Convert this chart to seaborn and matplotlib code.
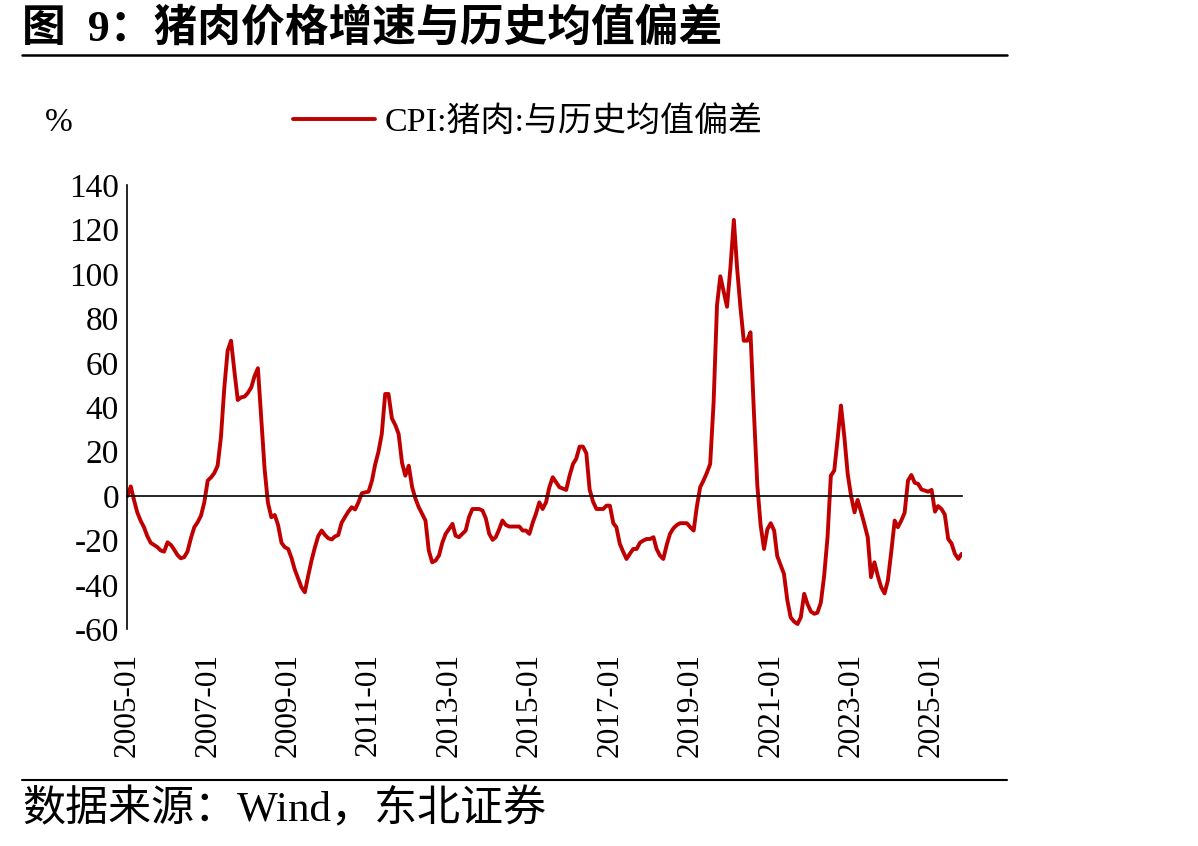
import pandas as pd
import matplotlib
matplotlib.use("Agg")
import matplotlib.pyplot as plt
import matplotlib.dates as mdates
from matplotlib.lines import Line2D
import seaborn as sns

# 月度数据：2005-01 起
series_name = "CPI:猪肉:与历史均值偏差"
v2005 = [0, 4.4, -1.5, -7.3, -11, -14, -18, -21, -22, -23, -24.5, -25]
v2006 = [-20.8, -22, -24, -26.5, -28, -27.5, -25, -19, -14, -11.8, -8.8, -2.8]
v2007 = [7, 8.5, 10.3, 13.7, 26.5, 49, 65.5, 70, 56, 43.3, 44.5, 44.8]
v2008 = [46.5, 49, 54, 57.6, 35, 12, -3, -9.5, -8.5, -13, -21, -23]
v2009 = [-23.8, -28, -33, -37, -41, -43.3, -36, -29, -23, -18, -15.5, -17.5]
v2010 = [-19, -19.5, -18.2, -17.5, -12, -9.4, -7, -5, -6, -2.8, 1.3, 1.7]
v2011 = [2, 7, 14, 20, 28, 46, 46, 35, 32, 28, 15, 9.2]
v2012 = [13.7, 4, -1, -5, -8, -11, -24.5, -29.8, -29, -26.8, -21, -17]
v2013 = [-14.8, -12.5, -17.8, -18.5, -17, -15.5, -9.5, -5.8, -5.8, -5.8, -6.5, -10]
v2014 = [-17, -19.7, -18.5, -15, -11, -13, -13.7, -13.7, -13.7, -13.7, -15.5, -15.5]
v2015 = [-17, -11.8, -8, -2.8, -5.8, -2.8, 4, 8.5, 6.2, 4, 3.4, 2.8]
v2016 = [9.2, 14.5, 16.8, 22.3, 22.3, 19.3, 3, -2.5, -5.8, -5.8, -5.8, -4.3]
v2017 = [-4.3, -12.2, -14, -21.5, -25, -28.3, -26, -23.8, -23.8, -21, -20, -19.3]
v2018 = [-19.3, -18.5, -23.8, -26.8, -28.3, -22, -17, -14.5, -13, -12.2, -12.2, -12.2]
v2019 = [-14, -15.5, -5, 4, 7, 10.5, 14.5, 42, 86, 99, 92, 85.3]
v2020 = [103, 124.4, 103, 85, 70, 70, 73.8, 38, 5, -13, -23.8, -15]
v2021 = [-12.2, -15.5, -27, -31, -35, -47, -54.6, -56.5, -57.6, -54.6, -44, -48.6]
v2022 = [-52, -53, -52.5, -48, -36, -18.5, 9.2, 11.5, 26, 40.8, 26.5, 10]
v2023 = [0, -7.3, -1.7, -7, -12.5, -18.5, -36.5, -29.8, -36, -41, -43.8, -38]
v2024 = [-25, -11, -14, -11, -7.5, 7, 9.5, 6, 5.5, 3, 2.5, 2]
v2025 = [2.8, -7, -4.5, -5.8, -8.3, -19.3, -21.3, -26, -28.3, -26]

values = (v2005 + v2006 + v2007 + v2008 + v2009 + v2010 + v2011 + v2012 + v2013
          + v2014 + v2015 + v2016 + v2017 + v2018 + v2019 + v2020 + v2021
          + v2022 + v2023 + v2024 + v2025)
months = pd.date_range("2005-01-01", periods=len(values), freq="MS")
df = pd.DataFrame({"date": months, "value": values})

x_ticks = pd.date_range("2005-01-01", "2025-01-01", freq="24MS")
y_ticks = list(range(-60, 141, 20))

sns.set_theme(style="white")
plt.rcParams["font.family"] = ["Liberation Serif", "Noto Sans CJK SC"]
plt.rcParams["axes.unicode_minus"] = False
plt.rcParams["text.color"] = "black"

fig = plt.figure(figsize=(11.98, 8.46), dpi=100)
ax = fig.add_axes([0.1063, 0.2561, 0.6964, 0.5249])

sns.lineplot(data=df, x="date", y="value", ax=ax, color="#C00000",
             linewidth=2.8, label=series_name)
handles, labels = ax.get_legend_handles_labels()
ax.get_legend().remove()

ax.set_xlim(months[0], months[-1])
ax.set_ylim(-60, 140)
ax.set_yticks(y_ticks)
ax.set_xticks(x_ticks)
ax.xaxis.set_major_formatter(mdates.DateFormatter("%Y-%m"))
ax.set_xlabel("")
ax.set_ylabel("")

for s in ["top", "right"]:
    ax.spines[s].set_visible(False)
ax.spines["bottom"].set_position(("data", 0))
for s in ["left", "bottom"]:
    ax.spines[s].set_color("black")
    ax.spines[s].set_linewidth(1.2)

ax.tick_params(axis="y", direction="in", length=6, width=1.2, pad=6,
               labelsize=24, colors="black")
ax.tick_params(axis="x", direction="in", length=6.5, width=1.2, pad=113,
               labelsize=22.5, colors="black", labelrotation=90)

leg = fig.legend(handles, labels, loc="center left",
                 bbox_to_anchor=(293 / 1198, 1 - 122 / 846), frameon=False,
                 handlelength=2.4, handletextpad=0.3, borderpad=0,
                 borderaxespad=0, fontsize=24.5)
for t in leg.get_texts():
    t.set_color("black")

fig.text(45 / 1198, 1 - 123 / 846, "%", fontsize=24, va="center", ha="left")

# 标题与分隔线
fig.text(22 / 1198, 1 - 29 / 846, "图  9：猪肉价格增速与历史均值偏差",
         fontsize=31.5, fontweight="bold", va="center", ha="left")
fig.add_artist(Line2D([22 / 1198, 1007 / 1198], [1 - 55 / 846, 1 - 55 / 846],
                      color="black", linewidth=1.8))
fig.add_artist(Line2D([22 / 1198, 1007 / 1198], [1 - 780 / 846, 1 - 780 / 846],
                      color="black", linewidth=1.5))
fig.text(22 / 1198, 1 - 810 / 846, "数据来源：Wind，东北证券",
         fontsize=31, va="center", ha="left")

fig.savefig("out.png", dpi=100)
